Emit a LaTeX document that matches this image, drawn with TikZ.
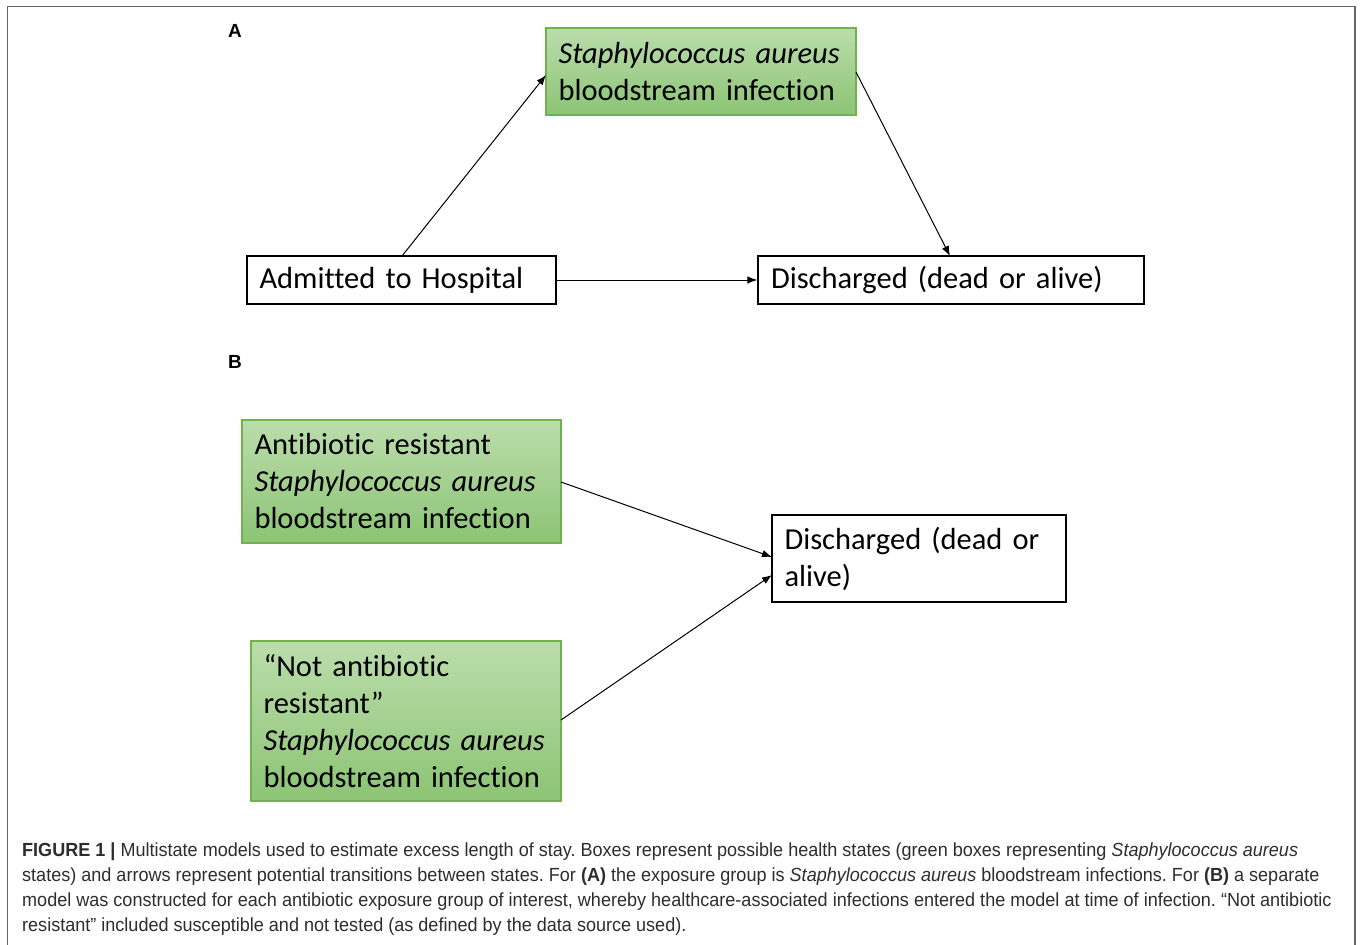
\documentclass[tikz,border=0pt]{standalone}
\usepackage{fontspec}
\setmainfont{Carlito}[Ligatures=NoCommon, WordSpace=0.8]
\newfontfamily\capfont[FakeStretch=0.95]{Liberation Sans}
\newfontfamily\lblfont{Liberation Sans}
\usetikzlibrary{arrows.meta}
\frenchspacing
\definecolor{gtop}{RGB}{187,221,172}
\definecolor{gbot}{RGB}{140,196,116}
\definecolor{gedge}{RGB}{112,178,76}
\definecolor{captxt}{RGB}{45,45,45}
\tikzset{
  box/.style={draw=black, line width=1.3pt, fill=white, inner xsep=12.5pt, inner ysep=0pt,
    align=left, font=\fontsize{30.5}{37}\selectfont},
  gbox/.style={box, draw=gedge, top color=gtop, bottom color=gbot},
  arr/.style={line width=1pt, -{Latex[length=10pt,width=7.5pt]}},
  captext/.style={anchor=base west, inner sep=0pt, text=captxt, font=\capfont\fontsize{19}{25}\selectfont},
  panel/.style={font=\lblfont\bfseries\fontsize{19}{22}\selectfont, inner sep=0pt}
}
\begin{document}
\begin{tikzpicture}[x=1pt,y=-1pt]
\useasboundingbox (0,0) rectangle (1360,945);
\draw[line width=1.8pt, black!60] (7.5,945) -- (7.5,6.5) -- (1355,6.5) -- (1355,945);

\node[panel] (la) at (235,31) {A};
\node[panel] (lb) at (235,362) {B};

% panel A
\node[gbox, minimum width=310pt, minimum height=87pt, text width=285pt] (sa) at (701,71.5)
  {\textit{Staphylococcus aureus}\\bloodstream infection};
\node[box, minimum width=309pt, minimum height=48pt, text width=284pt] (adm) at (401.5,280)
  {Admitted to Hospital};
\node[box, minimum width=386pt, minimum height=48pt, text width=360pt] (disa) at (951,280)
  {Discharged (dead or alive)};
\coordinate (admtop) at (402,256);
\coordinate (satip) at (546,75);
\coordinate (sarhs) at (856,72);
\coordinate (distop) at (950,256);
\draw[arr] (admtop) -- (satip);
\draw[arr] (sarhs) -- (distop);
\draw[arr] (adm.east) -- (disa.west);

% panel B
\node[gbox, minimum width=319pt, minimum height=123pt, text width=294pt] (b1) at (401.5,481.5)
  {Antibiotic resistant\\\textit{Staphylococcus aureus}\\bloodstream infection};
\node[gbox, minimum width=310pt, minimum height=160pt, text width=285pt] (b2) at (406,721)
  {“Not antibiotic\\resistant”\\\textit{Staphylococcus aureus}\\bloodstream infection};
\node[box, minimum width=294pt, minimum height=87pt, text width=269pt] (disb) at (919,558.5)
  {Discharged (dead or\\alive)};
\coordinate (b1r) at (561,482);
\coordinate (b2r) at (561,720);
\coordinate (db1) at (772,557);
\coordinate (db2) at (772,575);
\draw[arr] (b1r) -- (db1);
\draw[arr] (b2r) -- (db2);

% caption
\node[captext] (c1) at (22,856) {\bfseries FIGURE 1 |\mdseries{} Multistate models used to estimate excess length of stay. Boxes represent possible health states (green boxes representing \textit{Staphylococcus aureus}};
\node[captext] (c2) at (22,881) {states) and arrows represent potential transitions between states. For \textbf{(A)} the exposure group is \textit{Staphylococcus aureus} bloodstream infections. For \textbf{(B)} a separate};
\node[captext] (c3) at (22,906) {model was constructed for each antibiotic exposure group of interest, whereby healthcare-associated infections entered the model at time of infection. “Not antibiotic};
\node[captext] (c4) at (22,931) {resistant” included susceptible and not tested (as defined by the data source used).};
\end{tikzpicture}
\end{document}
